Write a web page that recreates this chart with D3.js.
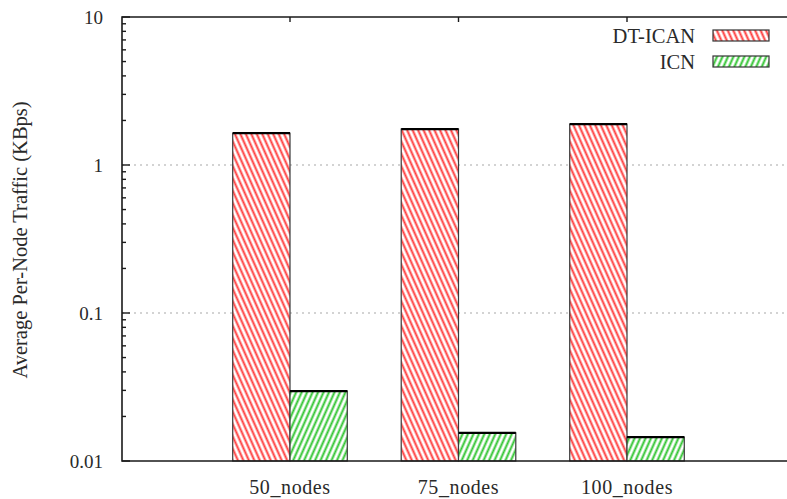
<!DOCTYPE html>
<html>
<head>
<meta charset="utf-8">
<script src="https://cdn.jsdelivr.net/npm/d3@7"></script>
<style>
  html, body { margin: 0; padding: 0; background: #fff; }
  svg { display: block; }
  text { font-family: "Liberation Serif", "DejaVu Serif", serif; fill: #2a2a2a; }
</style>
</head>
<body>
<svg id="chart" width="787" height="499"></svg>
<script>
// Average per-node traffic by network size
const categories = ["50_nodes", "75_nodes", "100_nodes"];
const seriesNames = ["DT-ICAN", "ICN"];
const dtIcanValues = [1.64, 1.75, 1.89];
const icnValues = [0.0297, 0.0155, 0.0145];
const yTickValues = [0.01, 0.1, 1, 10];
const yTickLabels = ["0.01", "0.1", "1", "10"];
const yAxisTitle = "Average Per-Node Traffic (KBps)";

const W = 787, H = 499;
const plotLeft = 122, plotTop = 17, plotBottom = 461;

const svg = d3.select("#chart");
const defs = svg.append("defs");

// diagonal hatch fills
function hatch(id, color, angle) {
  const p = defs.append("pattern")
    .attr("id", id)
    .attr("patternUnits", "userSpaceOnUse")
    .attr("width", 5).attr("height", 10)
    .attr("patternTransform", `rotate(${angle})`);
  p.append("rect").attr("width", 5).attr("height", 10).attr("fill", "#fff");
  p.append("line").attr("x1", 2.5).attr("x2", 2.5).attr("y1", -1).attr("y2", 11)
    .attr("stroke", color).attr("stroke-width", 2);
}
hatch("hatch-red", "#ff3b3b", -24);
hatch("hatch-green", "#2fc42f", 24);
const fills = ["url(#hatch-red)", "url(#hatch-green)"];

const y = d3.scaleLog().domain([0.01, 10]).range([plotBottom, plotTop]);
const x = d3.scaleBand().domain(categories)
  .range([205.75, 711.25]).paddingInner(0.32).paddingOuter(0.16);
const xs = d3.scaleBand().domain(seriesNames).range([0, x.bandwidth()]);

// dotted grid at interior decades
svg.append("g").selectAll("line")
  .data(yTickValues.filter(v => v > 0.01 && v < 10))
  .join("line")
  .attr("x1", plotLeft).attr("x2", W)
  .attr("y1", d => y(d)).attr("y2", d => y(d))
  .attr("stroke", "#a8a8a8").attr("stroke-width", 1.2)
  .attr("stroke-dasharray", "2,4");

// bars
const rows = categories.map((c, i) => ({ c, vals: [dtIcanValues[i], icnValues[i]] }));
const groups = svg.append("g").selectAll("g").data(rows).join("g")
  .attr("transform", d => `translate(${x(d.c)},0)`);
groups.selectAll("rect")
  .data(d => d.vals.map((v, k) => ({ v, k })))
  .join("rect")
  .attr("x", d => xs(seriesNames[d.k]))
  .attr("width", xs.bandwidth())
  .attr("y", d => y(d.v))
  .attr("height", d => plotBottom - y(d.v))
  .attr("fill", d => fills[d.k])
  .attr("stroke", "#3a3a3a").attr("stroke-width", 1.2);
groups.selectAll("line.top")
  .data(d => d.vals.map((v, k) => ({ v, k })))
  .join("line").attr("class", "top")
  .attr("x1", d => xs(seriesNames[d.k]))
  .attr("x2", d => xs(seriesNames[d.k]) + xs.bandwidth())
  .attr("y1", d => y(d.v)).attr("y2", d => y(d.v))
  .attr("stroke", "#000").attr("stroke-width", 2.2);

// frame (left, top, bottom)
const frame = svg.append("g").attr("stroke", "#1a1a1a").attr("stroke-width", 1.6).attr("fill", "none");
frame.append("path").attr("d", `M${W},${plotTop}H${plotLeft}V${plotBottom}H${W}`);

// y ticks: major at decades, minor at 2..9
const minor = [];
for (let d = 0.01; d < 10; d *= 10) for (let m = 2; m <= 9; m++) minor.push(d * m);
svg.append("g").selectAll("line").data(minor).join("line")
  .attr("x1", plotLeft).attr("x2", plotLeft + 4)
  .attr("y1", d => y(d)).attr("y2", d => y(d))
  .attr("stroke", "#1a1a1a").attr("stroke-width", 1.4);
svg.append("g").selectAll("line").data(yTickValues).join("line")
  .attr("x1", plotLeft).attr("x2", plotLeft + 8)
  .attr("y1", d => y(d)).attr("y2", d => y(d))
  .attr("stroke", "#1a1a1a").attr("stroke-width", 1.4);
svg.append("g").selectAll("text").data(yTickValues).join("text")
  .attr("x", 103).attr("y", d => y(d))
  .attr("dy", "0.35em").attr("text-anchor", "end")
  .attr("font-size", 19)
  .text((d, i) => yTickLabels[i]);

// mirrored x ticks on top
svg.append("g").selectAll("line").data(categories).join("line")
  .attr("x1", d => x(d) + x.bandwidth() / 2).attr("x2", d => x(d) + x.bandwidth() / 2)
  .attr("y1", plotTop).attr("y2", plotTop + 5)
  .attr("stroke", "#1a1a1a").attr("stroke-width", 1.4);

// x labels
svg.append("g").selectAll("text").data(categories).join("text")
  .attr("x", d => x(d) + x.bandwidth() / 2).attr("y", 494)
  .attr("text-anchor", "middle").attr("font-size", 20)
  .attr("letter-spacing", 0.6)
  .text(d => d);

// y axis title
svg.append("text")
  .attr("transform", `translate(27,240) rotate(-90)`)
  .attr("text-anchor", "middle").attr("font-size", 20.5)
  .text(yAxisTitle);

// legend
const legend = svg.append("g").selectAll("g").data(seriesNames).join("g")
  .attr("transform", (d, i) => `translate(0,${i * 26})`);
legend.append("text")
  .attr("x", 695).attr("y", 36).attr("dy", "0.35em")
  .attr("text-anchor", "end").attr("font-size", 20.5)
  .text(d => d);
legend.append("rect")
  .attr("x", 713).attr("y", 30).attr("width", 56).attr("height", 11)
  .attr("fill", (d, i) => fills[i])
  .attr("stroke", "#333").attr("stroke-width", 1.2);
</script>
</body>
</html>
